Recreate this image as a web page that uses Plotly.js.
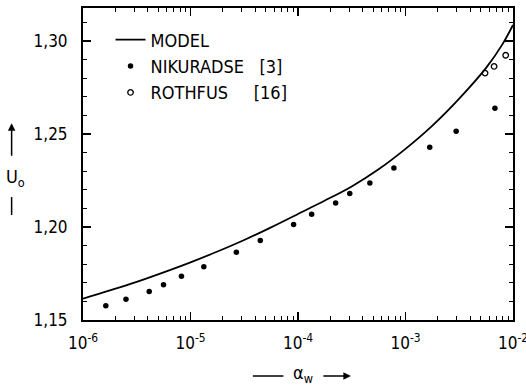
<!DOCTYPE html>
<html>
<head>
<meta charset="utf-8">
<script src="https://cdn.plot.ly/plotly-3.0.1.min.js"></script>
<style>html,body{margin:0;padding:0;background:#fff;}#chart{width:526px;height:385px;}</style>
</head>
<body>
<div id="chart"></div>
<script>
// Model curve
const modelX = [1e-6, 1.78e-6, 3.16e-6, 5.62e-6, 1e-5, 1.78e-5, 3.16e-5, 5.62e-5, 1e-4, 1.78e-4, 3.16e-4, 5.62e-4, 1e-3, 1.78e-3, 3.16e-3, 5.62e-3, 7.94e-3, 1e-2];
const modelY = [1.1615, 1.1659, 1.1705, 1.1756, 1.1810, 1.1868, 1.1930, 1.1998, 1.2070, 1.2142, 1.2218, 1.2310, 1.2420, 1.2545, 1.2690, 1.2855, 1.2980, 1.3086];
// Nikuradse [3]
const nikX = [1.63e-6, 2.51e-6, 4.13e-6, 5.61e-6, 8.24e-6, 1.33e-5, 2.67e-5, 4.46e-5, 9.10e-5, 1.34e-4, 2.24e-4, 3.03e-4, 4.66e-4, 7.80e-4, 1.68e-3, 2.96e-3, 6.79e-3];
const nikY = [1.1577, 1.1611, 1.1653, 1.1690, 1.1735, 1.1786, 1.1864, 1.1927, 1.2013, 1.2068, 1.2129, 1.2180, 1.2237, 1.2317, 1.2428, 1.2515, 1.2638];
// Rothfus [16]
const rothX = [5.50e-3, 6.67e-3, 8.55e-3];
const rothY = [1.2827, 1.2863, 1.2923];
// Names / labels
const seriesNames = ["MODEL", "NIKURADSE&nbsp;&nbsp;&nbsp;[3]", "ROTHFUS&nbsp;&nbsp;&nbsp;&nbsp;&nbsp;[16]"];
const yTickVals = [1.15, 1.20, 1.25, 1.30];
const xTickVals = [1e-6, 1e-5, 1e-4, 1e-3, 1e-2];
const xTickText = ['10<sup>-6</sup>', '10<sup>-5</sup>', '10<sup>-4</sup>', '10<sup>-3</sup>', '10<sup>-2</sup>'];

// log minor tick positions 2..9 in each decade
const xMinorVals = [];
xTickVals.slice(0, -1).forEach(d => { for (let k = 2; k <= 9; k++) xMinorVals.push(k * d); });

const FONT = "'DejaVu Sans Condensed', 'Liberation Sans Narrow', 'Liberation Sans', sans-serif";

const traces = [
  {x: modelX, y: modelY, name: seriesNames[0], mode: 'lines', type: 'scatter',
   line: {color: '#000', width: 1.8, shape: 'spline', smoothing: 1}},
  {x: nikX, y: nikY, name: seriesNames[1], mode: 'markers', type: 'scatter',
   marker: {color: '#000', size: 5.5, symbol: 'circle'}},
  {x: rothX, y: rothY, name: seriesNames[2], mode: 'markers', type: 'scatter',
   marker: {color: '#000', size: 5.5, symbol: 'circle-open', line: {color: '#000', width: 1.3}}}
];

const layout = {
  width: 526, height: 385,
  margin: {l: 83, r: 13, t: 8, b: 65},
  paper_bgcolor: '#fff', plot_bgcolor: '#fff',
  separators: ',.',
  font: {family: FONT, size: 16, color: '#000'},
  showlegend: true,
  legend: {x: 0.064, y: 0.957, xanchor: 'left', yanchor: 'top', bgcolor: 'rgba(0,0,0,0)',
           font: {family: FONT, size: 18, color: '#000'}},
  xaxis: {type: 'log', range: [-6, -2], tickvals: xTickVals, ticktext: xTickText, ticklabeloverflow: 'allow',
          showline: true, linecolor: '#000', linewidth: 2, mirror: 'allticks',
          ticks: 'inside', ticklen: 8, tickwidth: 1.5, tickcolor: '#000',
          minor: {tickvals: xMinorVals, ticks: 'inside', ticklen: 4, tickwidth: 1, tickcolor: '#000', showgrid: false},
          showgrid: false, zeroline: false, ticklabelstandoff: 7,
          tickfont: {family: FONT, size: 17, color: '#000'}},
  yaxis: {range: [1.15, 1.3177], tickvals: yTickVals, tickformat: '.2f',
          showline: true, linecolor: '#000', linewidth: 2, mirror: 'allticks',
          ticks: 'inside', ticklen: 8, tickwidth: 1.5, tickcolor: '#000',
          minor: {dtick: 0.01, ticks: 'inside', ticklen: 4, tickwidth: 1, tickcolor: '#000', showgrid: false},
          showgrid: false, zeroline: false, ticklabelstandoff: 10,
          tickfont: {family: FONT, size: 17, color: '#000'}},
  shapes: [
    {type: 'line', xref: 'paper', yref: 'paper', x0: -0.166, x1: -0.166, y0: 0.394, y1: 0.3365, line: {color: '#000', width: 1.5}},
    {type: 'line', xref: 'paper', yref: 'paper', x0: 0.395, x1: 0.466, y0: -0.1795, y1: -0.1795, line: {color: '#000', width: 1.5}}
  ],
  annotations: [
    {xref: 'paper', yref: 'paper', x: -0.166, y: 0.631, ax: 0, ay: 34, text: '', showarrow: true,
     arrowhead: 2, arrowsize: 1, arrowwidth: 1.5, arrowcolor: '#000'},
    {xref: 'paper', yref: 'paper', x: -0.158, y: 0.455, xanchor: 'center', yanchor: 'middle', text: 'U<sub>o</sub>', showarrow: false,
     font: {family: FONT, size: 18, color: '#000'}},
    {xref: 'paper', yref: 'paper', x: 0.512, y: -0.172, xanchor: 'center', yanchor: 'middle', text: 'α<sub>w</sub>', showarrow: false,
     font: {family: FONT, size: 18, color: '#000'}},
    {xref: 'paper', yref: 'paper', x: 0.623, y: -0.1795, ax: -29, ay: 0, text: '', showarrow: true,
     arrowhead: 2, arrowsize: 1, arrowwidth: 1.5, arrowcolor: '#000'}
  ]
};

Plotly.newPlot('chart', traces, layout, {displayModeBar: false, staticPlot: true});
</script>
</body>
</html>
